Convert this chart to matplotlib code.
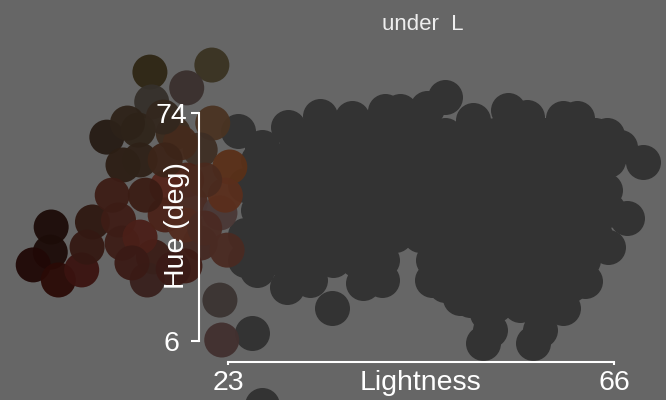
import matplotlib
matplotlib.use('Agg')

import matplotlib.pyplot as plt

plt.rcParams['font.family'] = ['Liberation Sans', 'DejaVu Sans']

# grey points: lightness / hue of the bulk of the colours
dark_L = [24.1, 26.8, 29.7, 33.3, 36.8, 40.5, 42.2, 45.2, 47.2, 50.3, 54.2, 56.3, 60.3, 61.9, 65.2, 66.7, 69.2,
          65.0, 67.4, 65.3, 62.8, 60.3, 57.8, 57.0,
          51.4, 52.2, 51.9, 48.8, 45.7, 40.2, 38.0, 34.6, 29.6, 26.2, 25.7, 26.8, 32.1,
          30.5, 33.3, 36.0, 38.8, 41.6, 44.4, 47.2, 50.0, 52.7, 55.5, 58.3, 61.1, 63.9,
          26.3, 29.1, 31.9, 34.7, 37.4, 40.2, 43.0, 45.8, 48.6, 51.4, 54.1, 56.9, 59.7, 62.5, 65.3,
          24.9, 27.7, 30.5, 33.3, 36.0, 38.8, 41.6, 44.4, 47.2, 50.0, 52.7, 55.5, 58.3, 61.1, 63.9,
          26.3, 29.1, 31.9, 34.7, 37.4, 40.2, 43.0, 45.8, 48.6, 51.4, 54.1, 56.9, 59.7, 62.5, 65.3,
          24.9, 27.7, 30.5, 33.3, 36.0, 38.8, 41.6, 44.4, 47.2, 50.0, 52.7, 55.5, 58.3, 61.1, 63.9,
          24.9, 26.3, 29.1, 31.9, 34.7, 37.4, 40.2, 45.8, 48.6, 51.4, 54.1, 56.9, 59.7, 62.5,
          47.2, 50.0, 52.7, 55.5, 58.3, 61.1,
          50.0, 52.7, 55.5, 58.3]
dark_H = [68.6, 63.9, 69.8, 73.1, 72.5, 74.6, 74.6, 75.5, 78.8, 72.0, 74.9, 72.8, 72.5, 72.5, 67.4, 63.9, 59.4,
          51.0, 42.7, 34.0, 23.9, 15.8, 9.3, 5.4,
          5.4, 9.3, 14.4, 18.8, 24.2, 24.2, 23.3, 15.8, 22.1, 27.2, 8.4, -13.1, 24.2,
          67.4, 67.4, 67.4, 67.4, 67.4, 67.4, 67.4, 67.4, 67.4, 67.4, 67.4, 67.4, 67.4,
          60.0, 60.0, 60.0, 60.0, 60.0, 60.0, 60.0, 60.0, 60.0, 60.0, 60.0, 60.0, 60.0, 60.0, 60.0,
          52.5, 52.5, 52.5, 52.5, 52.5, 52.5, 52.5, 52.5, 52.5, 52.5, 52.5, 52.5, 52.5, 52.5, 52.5,
          45.1, 45.1, 45.1, 45.1, 45.1, 45.1, 45.1, 45.1, 45.1, 45.1, 45.1, 45.1, 45.1, 45.1, 45.1,
          37.6, 37.6, 37.6, 37.6, 37.6, 37.6, 37.6, 37.6, 37.6, 37.6, 37.6, 37.6, 37.6, 37.6, 37.6,
          30.2, 30.2, 30.2, 30.2, 30.2, 30.2, 30.2, 30.2, 30.2, 30.2, 30.2, 30.2, 30.2, 30.2,
          22.7, 22.7, 22.7, 22.7, 22.7, 22.7,
          18.2, 16.7, 16.7, 16.7]

# dark colours drawn in their own colour
col_L = [14.3, 21.2, 18.4, 14.5, 9.5, 13.0, 11.3, 13.2, 16.9, 21.3, 19.9, 17.7, 23.2, 18.4, 16.2,
         18.8, 22.1, 22.7, 19.9, 22.9, 14.7, 14.0, 22.1, 22.3, 3.3, 3.2, 1.3, 4.1, 6.7, 7.9,
         7.3, 10.8, 11.2, 13.2, 12.3, 16.0, 18.2, 20.4, 10.1, 13.8, 16.0, 20.4, 11.8, 15.8,
         18.2, 16.9]
col_H = [86.2, 88.3, 81.5, 77.3, 66.8, 68.9, 58.5, 60.0, 68.0, 71.0, 63.0, 65.1, 57.9, 54.0, 51.9,
         47.2, 44.2, 49.5, 35.2, 33.1, 31.1, 24.2, 18.2, 6.3, 40.0, 32.5, 28.7, 24.2, 27.2, 41.5,
         34.0, 42.1, 35.2, 37.0, 29.3, 43.6, 40.6, 39.7, 49.5, 49.5, 60.0, 54.0, 71.0, 72.8,
         28.4, 27.5]
col_hex = ['#2e2614', '#3a3322', '#3a302d', '#35302a', '#261b14', '#2f2419', '#2c1e14', '#2e2117',
           '#3a2a1e', '#4a3322', '#3e2e24', '#452a1c', '#5a3018', '#4a2418', '#55241a', '#4a2a22',
           '#4a3836', '#5a2e1c', '#452822', '#4a2a22', '#3a1c16', '#38201c', '#3b3432', '#42302f',
           '#1c0c08', '#1c0c08', '#200806', '#2a0a06', '#3a1310', '#2f1811', '#341812', '#3e1d16',
           '#3c1c16', '#4a1f18', '#3a1a15', '#4a2218', '#522a1e', '#4a2a22', '#3c1c15', '#3a1c14',
           '#3c2418', '#4a2a1e', '#2d2218', '#33271e', '#3e1c16', '#3a1a16']

x_ticks = [23, 66]
y_ticks = [6, 74]

fig = plt.figure(figsize=(6.66, 4), dpi=100)
fig.patch.set_facecolor('#666666')
ax = fig.add_axes([0, 0, 1, 1])
ax.set_facecolor('#666666')

ax.scatter(dark_L, dark_H, s=635, c='#333333', linewidths=0, zorder=1)
ax.scatter(col_L, col_H, s=635, c=col_hex, linewidths=0, alpha=0.95, zorder=1.5)

ax.set_xlim(-2.40, 71.79)
ax.set_ylim(-11.59, 107.70)

# range-frame style axes
for side in ['top', 'right']:
    ax.spines[side].set_visible(False)
ax.spines['left'].set_position(('data', 19.8))
ax.spines['bottom'].set_position(('data', -0.2))
ax.spines['left'].set_bounds(6, 74)
ax.spines['bottom'].set_bounds(23, 66)
for side in ['left', 'bottom']:
    ax.spines[side].set_color('white')
    ax.spines[side].set_linewidth(1.5)
    ax.spines[side].set_zorder(5)

ax.set_xticks(x_ticks)
ax.set_yticks(y_ticks)
ax.tick_params(axis='x', direction='out', length=2, width=1.5, color='white',
               labelcolor='white', labelsize=20.5, pad=4)
ax.tick_params(axis='y', direction='out', length=6, width=1.5, color='white',
               labelcolor='white', labelsize=20.5, pad=14)
for lab in ax.get_yticklabels():
    lab.set_horizontalalignment('center')

fig.text(420 / 666, 1 - 383 / 400, 'Lightness', ha='center', va='center',
         fontsize=20.5, color='white')
fig.text(177 / 666, 1 - 226 / 400, 'Hue (deg)', ha='center', va='center',
         rotation=90, fontsize=20.5, color='white')
fig.text(423 / 666, 1 - 25 / 400, 'under  L', ha='center', va='center',
         fontsize=16, color='#eeeeee')

fig.savefig('out.png', dpi=100, facecolor=fig.get_facecolor())
